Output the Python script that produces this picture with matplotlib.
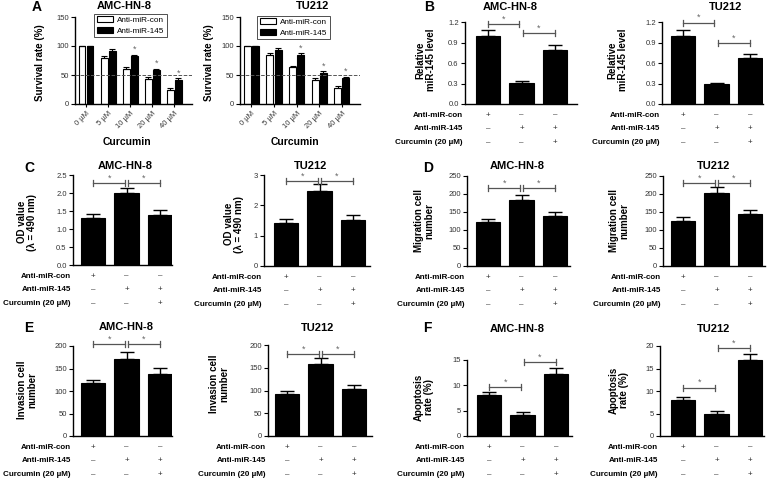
import matplotlib
matplotlib.use("Agg")
import matplotlib.pyplot as plt
import numpy as np
from matplotlib.ticker import FormatStrFormatter

plt.rcParams["font.family"] = ["Liberation Sans", "DejaVu Sans"]

W, H = 768, 479

# --- A: survival rate vs curcumin dose
CONC_LABELS = ["0 µM", "5 µM", "10 µM", "20 µM", "40 µM"]
SURV_AMC_CON = [100, 79, 60, 43, 24]
SURV_AMC_CON_ERR = [0, 4, 3, 3, 3]
SURV_AMC_145 = [100, 91, 82, 58, 41]
SURV_AMC_145_ERR = [0, 4, 3, 3, 3]
SURV_TU_CON = [100, 84, 63, 41, 28]
SURV_TU_CON_ERR = [0, 4, 3, 3, 3]
SURV_TU_145 = [100, 93, 85, 54, 44]
SURV_TU_145_ERR = [0, 4, 3, 3, 3]
SURV_STARS = [False, False, True, True, True]

# --- B-F: three treatment groups
ROW_LABELS = ["Anti-miR-con", "Anti-miR-145", "Curcumin (20 µM)"]
ROW_SIGNS = [["+", "–", "–"], ["–", "+", "+"], ["–", "–", "+"]]

MIR_AMC = [1.00, 0.31, 0.79]
MIR_AMC_ERR = [0.08, 0.02, 0.07]
MIR_TU = [1.00, 0.29, 0.68]
MIR_TU_ERR = [0.09, 0.02, 0.05]

OD_AMC = [1.30, 2.00, 1.40]
OD_AMC_ERR = [0.13, 0.15, 0.13]
OD_TU = [1.43, 2.47, 1.53]
OD_TU_ERR = [0.13, 0.22, 0.15]

MIG_AMC = [121, 182, 140]
MIG_AMC_ERR = [10, 14, 11]
MIG_TU = [125, 202, 145]
MIG_TU_ERR = [10, 17, 11]

INV_AMC = [117, 172, 138]
INV_AMC_ERR = [8, 15, 13]
INV_TU = [92, 158, 103]
INV_TU_ERR = [8, 13, 9]

APO_AMC = [8.0, 4.2, 12.3]
APO_AMC_ERR = [0.7, 0.5, 1.1]
APO_TU = [8.0, 5.0, 16.8]
APO_TU_ERR = [0.7, 0.5, 1.4]

STAR_GRAY = "#666666"


def add_axes_px(fig, x0, y0, x1, y1):
    return fig.add_axes([x0 / W, 1 - y1 / H, (x1 - x0) / W, (y1 - y0) / H])


def style(ax):
    for s in ["top", "right"]:
        ax.spines[s].set_visible(False)
    for s in ["left", "bottom"]:
        ax.spines[s].set_linewidth(1.0)
    ax.tick_params(axis="y", direction="out", length=3, width=0.8,
                   labelsize=5.5, labelcolor="#333333", pad=1.5)


def ylabel_px(ax, fig, text, x, y):
    ax.set_ylabel(text, fontsize=7, fontweight="bold", linespacing=1.05)
    ax.yaxis.set_label_coords(x / W, 1 - y / H, transform=fig.transFigure)


def fig_text(fig, x, y, s, **kw):
    fig.text(x / W, 1 - y / H, s, ha="center", va="center", **kw)


def survival_panel(fig, box, con, con_err, m145, m145_err, ylab_xy,
                   xlab_xy, legend_anchor):
    ax = add_axes_px(fig, *box)
    style(ax)
    x = np.arange(len(CONC_LABELS))
    w = 0.31
    ax.bar(x - 0.18, con, w, color="white", edgecolor="black", lw=0.8,
           label="Anti-miR-con", zorder=2)
    ax.bar(x + 0.18, m145, w, color="black", edgecolor="black", lw=0.8,
           label="Anti-miR-145", zorder=2)
    zeros = np.zeros(len(x))
    ax.errorbar(x - 0.18, con, yerr=[zeros, con_err], fmt="none", ecolor="black",
                elinewidth=0.8, capsize=2.2, capthick=0.8, zorder=3)
    ax.errorbar(x + 0.18, m145, yerr=[zeros, m145_err], fmt="none", ecolor="black",
                elinewidth=0.8, capsize=2.2, capthick=0.8, zorder=3)
    for i, star in enumerate(SURV_STARS):
        if star:
            ax.text(x[i] + 0.18, m145[i] + m145_err[i] + 1, "*", ha="center",
                    va="bottom", fontsize=6.5, color=STAR_GRAY)
    ax.axhline(50, color="#555555", ls="--", lw=0.7, zorder=4)
    ax.set_xlim(-0.5, 4.8)
    ax.set_ylim(0, 150)
    ax.set_yticks([0, 50, 100, 150])
    ax.set_xticks(x)
    ax.set_xticklabels(CONC_LABELS, rotation=45, ha="right",
                       rotation_mode="anchor", fontsize=5.5, color="#333333")
    ax.tick_params(axis="x", length=2, width=0.8, pad=2)
    ylabel_px(ax, fig, "Survival rate (%)", *ylab_xy)
    fig_text(fig, *xlab_xy, "Curcumin", fontsize=7.5, fontweight="bold")
    leg = ax.legend(loc="upper right",
                    bbox_to_anchor=(legend_anchor[0] / W, 1 - legend_anchor[1] / H),
                    bbox_transform=fig.transFigure, fontsize=5.9, frameon=True,
                    fancybox=False, edgecolor="black", borderpad=0.3,
                    handlelength=2.0, handleheight=0.7, labelspacing=0.35,
                    handletextpad=0.5, borderaxespad=0)
    leg.get_frame().set_linewidth(0.6)
    return ax


def bar_panel(fig, box, c0, vals, errs, ymax, ystep, fmt, ylabel, ylab_xy,
              brackets):
    x0, y0, x1, y1 = box
    ax = add_axes_px(fig, *box)
    style(ax)
    s = 33.5
    x = np.arange(len(vals))
    ax.bar(x, vals, width=0.72, color="black", edgecolor="black", lw=0.8, zorder=2)
    ax.errorbar(x, vals, yerr=[np.zeros(len(x)), errs], fmt="none", ecolor="black",
                elinewidth=1.0, capsize=5, capthick=1.0, zorder=3)
    ax.set_xlim((x0 - c0) / s, (x1 - c0) / s)
    ax.set_ylim(0, ymax)
    ax.set_yticks(np.arange(0, ymax + ystep / 2, ystep))
    ax.yaxis.set_major_formatter(FormatStrFormatter(fmt))
    ax.tick_params(axis="x", bottom=False, labelbottom=False)
    ylabel_px(ax, fig, ylabel, *ylab_xy)

    d = 0.035 * ymax
    for a, b, yb in brackets:
        ax.plot([a, b], [yb, yb], color="#555555", lw=0.9, clip_on=False, zorder=4)
        ax.plot([a, a], [yb - d, yb + d], color="#555555", lw=0.9, clip_on=False, zorder=4)
        ax.plot([b, b], [yb - d, yb + d], color="#555555", lw=0.9, clip_on=False, zorder=4)
        ax.text((a + b) / 2, yb + d * 0.2, "*", ha="center", va="bottom",
                fontsize=6.5, color=STAR_GRAY, clip_on=False)

    offsets = [8, 17.8, 27.6]
    for r, lab in enumerate(ROW_LABELS):
        ax.annotate(lab, xy=(0, 0), xycoords="axes fraction",
                    xytext=(-1.5, -offsets[r]), textcoords="offset points",
                    ha="right", va="center", fontsize=5.8, fontweight="bold",
                    annotation_clip=False)
        for i, sign in enumerate(ROW_SIGNS[r]):
            ax.annotate(sign, xy=(i, 0), xycoords=("data", "axes fraction"),
                        xytext=(0, -offsets[r]), textcoords="offset points",
                        ha="center", va="center", fontsize=5.8, color="#333333",
                        annotation_clip=False)
    return ax


fig = plt.figure(figsize=(W / 100, H / 100), dpi=100)

# panel A
survival_panel(fig, (75, 17, 192, 104), SURV_AMC_CON, SURV_AMC_CON_ERR,
               SURV_AMC_145, SURV_AMC_145_ERR, (45, 63), (127, 142), (167, 14))
survival_panel(fig, (240, 17, 360, 104), SURV_TU_CON, SURV_TU_CON_ERR,
               SURV_TU_145, SURV_TU_145_ERR, (214, 63), (295, 142), (330, 16))

# panel B
bar_panel(fig, (465, 22, 577, 104), 488, MIR_AMC, MIR_AMC_ERR, 1.2, 0.3, "%.1f",
          "Relative\nmiR-145 level", (436, 60), [(0, 0.92, 1.17), (1.05, 2, 1.04)])
bar_panel(fig, (662, 22, 763, 104), 683, MIR_TU, MIR_TU_ERR, 1.2, 0.3, "%.1f",
          "Relative\nmiR-145 level", (628, 60), [(0, 0.92, 1.19), (1.05, 2, 0.89)])

# panel C
bar_panel(fig, (73, 175, 172, 265), 93, OD_AMC, OD_AMC_ERR, 2.5, 0.5, "%.1f",
          "OD value\n(λ = 490 nm)", (37, 222), [(0, 0.97, 2.28), (1.03, 2, 2.28)])
bar_panel(fig, (264, 175, 370, 266), 286, OD_TU, OD_TU_ERR, 3, 1, "%d",
          "OD value\n(λ = 490 nm)", (244, 224), [(0, 0.97, 2.8), (1.03, 2, 2.8)])

# panel D
bar_panel(fig, (467, 176, 570, 266), 488, MIG_AMC, MIG_AMC_ERR, 250, 50, "%d",
          "Migration cell\nnumber", (434, 221), [(0, 0.97, 217), (1.03, 2, 217)])
bar_panel(fig, (663, 176, 765, 266), 683, MIG_TU, MIG_TU_ERR, 250, 50, "%d",
          "Migration cell\nnumber", (629, 221), [(0, 0.97, 230), (1.03, 2, 230)])

# panel E
bar_panel(fig, (73, 346, 172, 436), 93, INV_AMC, INV_AMC_ERR, 200, 50, "%d",
          "Invasion cell\nnumber", (37, 390), [(0, 0.97, 204), (1.03, 2, 204)])
bar_panel(fig, (268, 345, 372, 436), 287, INV_TU, INV_TU_ERR, 200, 50, "%d",
          "Invasion cell\nnumber", (229, 384), [(0, 0.97, 180), (1.03, 2, 180)])

# panel F
bar_panel(fig, (467, 360, 572, 436), 489, APO_AMC, APO_AMC_ERR, 15, 5, "%d",
          "Apoptosis\nrate (%)", (434, 397), [(0, 0.97, 9.7), (1.03, 2, 14.6)])
bar_panel(fig, (660, 346, 764, 436), 683, APO_TU, APO_TU_ERR, 20, 5, "%d",
          "Apoptosis\nrate (%)", (629, 390), [(0, 0.97, 10.7), (1.03, 2, 19.5)])

# titles
titles = [("AMC-HN-8", 124, 6), ("TU212", 313, 6),
          ("AMC-HN-8", 510, 7), ("TU212", 726, 7),
          ("AMC-HN-8", 125, 166), ("TU212", 311, 166),
          ("AMC-HN-8", 517, 166), ("TU212", 714, 166),
          ("AMC-HN-8", 126, 327), ("TU212", 318, 328),
          ("AMC-HN-8", 517, 329), ("TU212", 714, 329)]
for t, tx, ty in titles:
    fig_text(fig, tx, ty, t, fontsize=8, fontweight="bold")

# panel letters
for letter, lx, ly in [("A", 37, 7), ("B", 429, 7), ("C", 29, 168),
                       ("D", 428, 168), ("E", 29, 328), ("F", 427, 328)]:
    fig_text(fig, lx, ly, letter, fontsize=10, fontweight="bold")

fig.savefig("out.png", dpi=100)
